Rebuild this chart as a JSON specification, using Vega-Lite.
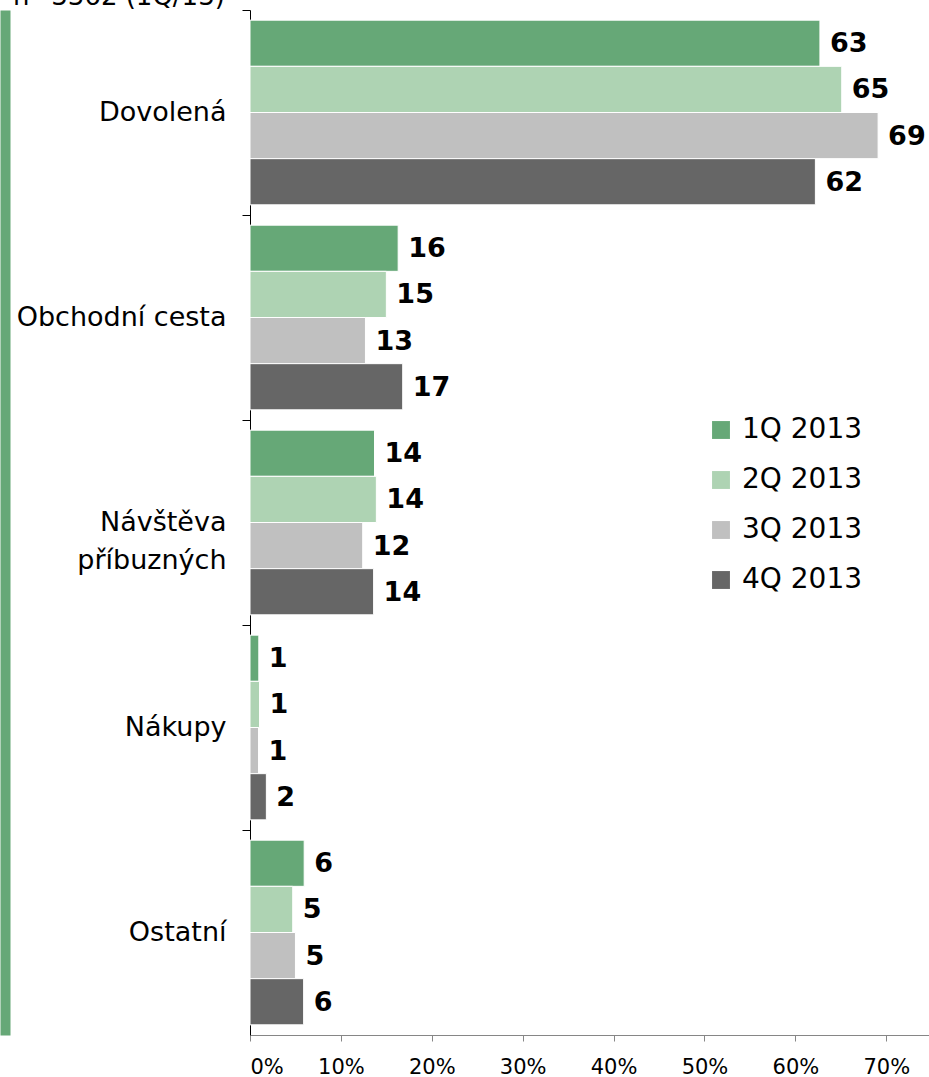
{
  "$schema": "https://vega.github.io/schema/vega-lite/v6.json",
  "width": 679,
  "height": 1025,
  "autosize": {"type": "none"},
  "padding": {"left": 250, "top": 10, "right": 0, "bottom": 42},
  "background": "white",
  "title": {"text": "n=3362 (1Q/13)", "anchor": "start", "frame": "group", "dx": -237, "dy": 21, "offset": 0, "baseline": "alphabetic", "fontSize": 26, "fontWeight": "normal", "font": "DejaVu Sans", "color": "black"},
  "config": {"view": {"stroke": null}, "font": "DejaVu Sans"},
  "data": {"values": [
    {"kategorie": "Dovolená", "obdobi": "1Q 2013", "podil": 62.7},
    {"kategorie": "Dovolená", "obdobi": "2Q 2013", "podil": 65.1},
    {"kategorie": "Dovolená", "obdobi": "3Q 2013", "podil": 69.1},
    {"kategorie": "Dovolená", "obdobi": "4Q 2013", "podil": 62.2},
    {"kategorie": "Obchodní cesta", "obdobi": "1Q 2013", "podil": 16.3},
    {"kategorie": "Obchodní cesta", "obdobi": "2Q 2013", "podil": 15.0},
    {"kategorie": "Obchodní cesta", "obdobi": "3Q 2013", "podil": 12.7},
    {"kategorie": "Obchodní cesta", "obdobi": "4Q 2013", "podil": 16.8},
    {"kategorie": "Návštěva příbuzných", "obdobi": "1Q 2013", "podil": 13.7},
    {"kategorie": "Návštěva příbuzných", "obdobi": "2Q 2013", "podil": 13.9},
    {"kategorie": "Návštěva příbuzných", "obdobi": "3Q 2013", "podil": 12.4},
    {"kategorie": "Návštěva příbuzných", "obdobi": "4Q 2013", "podil": 13.6},
    {"kategorie": "Nákupy", "obdobi": "1Q 2013", "podil": 0.97},
    {"kategorie": "Nákupy", "obdobi": "2Q 2013", "podil": 1.05},
    {"kategorie": "Nákupy", "obdobi": "3Q 2013", "podil": 0.94},
    {"kategorie": "Nákupy", "obdobi": "4Q 2013", "podil": 1.8},
    {"kategorie": "Ostatní", "obdobi": "1Q 2013", "podil": 5.96},
    {"kategorie": "Ostatní", "obdobi": "2Q 2013", "podil": 4.7},
    {"kategorie": "Ostatní", "obdobi": "3Q 2013", "podil": 5.0},
    {"kategorie": "Ostatní", "obdobi": "4Q 2013", "podil": 5.9}
  ]},
  "encoding": {
    "yOffset": {
      "field": "obdobi", "type": "nominal",
      "sort": ["1Q 2013", "2Q 2013", "3Q 2013", "4Q 2013"],
      "scale": {"paddingInner": 0, "paddingOuter": 0.22}
    },
    "x": {
      "field": "podil", "type": "quantitative",
      "scale": {"domain": [0, 74.7], "nice": false},
      "axis": {
        "title": null, "values": [0, 10, 20, 30, 40, 50, 60, 70],
        "labelExpr": "datum.value + '%'", "grid": false,
        "domainColor": "#868686", "tickColor": "#868686", "tickSize": 6,
        "labelFontSize": 21, "labelColor": "black", "labelPadding": 15
      }
    }
  },
  "resolve": {"axis": {"y": "independent"}},
  "layer": [
    {
      "mark": {"type": "bar", "stroke": "white", "strokeWidth": 1},
      "encoding": {
        "y": {
          "field": "kategorie", "type": "nominal",
          "sort": ["Dovolená", "Obchodní cesta", "Návštěva příbuzných", "Nákupy", "Ostatní"],
          "scale": {"paddingInner": 0, "paddingOuter": 0},
          "axis": {
            "title": null, "bandPosition": 0, "labelOffset": 0,
            "domainColor": "black", "tickColor": "black", "tickSize": 8,
            "labelFontSize": 27, "labelColor": "black", "labelPadding": 16,
            "labelLineHeight": 38, "labelLimit": 400,
            "labelExpr": "datum.value == 'Návštěva příbuzných' ? ['Návštěva', 'příbuzných'] : datum.value"
          }
        },
        "color": {
          "field": "obdobi", "type": "nominal",
          "scale": {"domain": ["1Q 2013", "2Q 2013", "3Q 2013", "4Q 2013"], "range": ["#66a877", "#aed3b3", "#c0c0c0", "#666666"]},
          "legend": {
            "title": null, "orient": "none", "legendX": 457, "legendY": 406,
            "symbolType": "square", "symbolSize": 320, "symbolStrokeWidth": 0, "symbolOpacity": 1,
            "labelFontSize": 28, "labelColor": "black", "labelOffset": 7, "rowPadding": 22
          }
        }
      }
    },
    {
      "mark": {"type": "text", "align": "left", "baseline": "middle", "dx": 10, "dy": 1, "fontSize": 27, "fontWeight": "bold", "color": "black"},
      "encoding": {
        "y": {
          "field": "kategorie", "type": "nominal",
          "sort": ["Dovolená", "Obchodní cesta", "Návštěva příbuzných", "Nákupy", "Ostatní"],
          "axis": {
            "title": null, "orient": "left", "offset": 245, "labels": false, "ticks": false,
            "domainColor": "#66a877", "domainWidth": 10, "domainCap": "butt"
          }
        },
        "text": {"field": "podil", "type": "quantitative", "format": ".0f"}
      }
    }
  ]
}
